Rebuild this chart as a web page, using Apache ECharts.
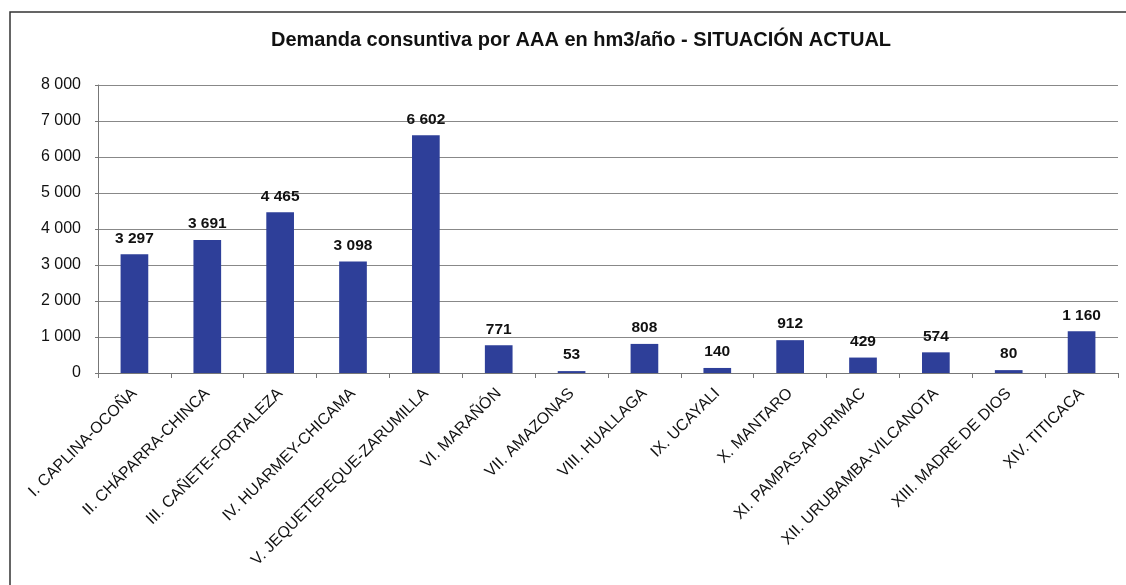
<!DOCTYPE html>
<html>
<head>
<meta charset="utf-8">
<script src="https://cdn.jsdelivr.net/npm/echarts@6/dist/echarts.min.js"></script>
<style>
html,body{margin:0;padding:0;background:#fff;}
#chart{width:1126px;height:585px;}
</style>
</head>
<body>
<div id="chart"></div>
<script>
const chartTitle = 'Demanda consuntiva por AAA en hm3/año - SITUACIÓN ACTUAL';
const categories = [
  'I. CAPLINA-OCOÑA',
  'II. CHÁPARRA-CHINCA',
  'III. CAÑETE-FORTALEZA',
  'IV. HUARMEY-CHICAMA',
  'V. JEQUETEPEQUE-ZARUMILLA',
  'VI. MARAÑÓN',
  'VII. AMAZONAS',
  'VIII. HUALLAGA',
  'IX. UCAYALI',
  'X. MANTARO',
  'XI. PAMPAS-APURIMAC',
  'XII. URUBAMBA-VILCANOTA',
  'XIII. MADRE DE DIOS',
  'XIV. TITICACA'
];
const demand = [3297, 3691, 4465, 3098, 6602, 771, 53, 808, 140, 912, 429, 574, 80, 1160];
const yMin = 0, yMax = 8000, yStep = 1000;

function fmt(v) {
  return String(Math.round(v)).replace(/\B(?=(\d{3})+(?!\d))/g, ' ');
}

const FONT = 'Liberation Sans, Arial, sans-serif';
const chart = echarts.init(document.getElementById('chart'));
chart.setOption({
  backgroundColor: '#ffffff',
  animation: false,
  title: {
    text: chartTitle,
    left: 266,
    top: 25,
    textStyle: { fontFamily: FONT, fontSize: 20, fontWeight: 'bold', color: '#111' }
  },
  graphic: [{
    type: 'rect',
    shape: { x: 10, y: 12, width: 1300, height: 800 },
    style: { fill: 'none', stroke: '#333', lineWidth: 1.5 },
    silent: true,
    z: 100
  }],
  grid: { left: 98, right: 8, top: 85, bottom: 212, containLabel: false },
  xAxis: {
    type: 'category',
    data: categories,
    axisLine: { lineStyle: { color: '#777', width: 1 } },
    axisTick: { show: true, alignWithLabel: false, length: 5, lineStyle: { color: '#777' } },
    axisLabel: {
      interval: 0,
      rotate: 45,
      margin: 18,
      fontFamily: FONT,
      fontSize: 16,
      color: '#111'
    }
  },
  yAxis: {
    type: 'value',
    min: yMin,
    max: yMax,
    interval: yStep,
    axisLine: { show: true, lineStyle: { color: '#777', width: 1 } },
    axisTick: { show: true, length: 3, lineStyle: { color: '#777' } },
    splitLine: { lineStyle: { color: '#888', width: 1 } },
    axisLabel: {
      formatter: fmt,
      margin: 17,
      fontFamily: FONT,
      fontSize: 16,
      color: '#111'
    }
  },
  series: [{
    type: 'bar',
    data: demand,
    barWidth: '38%',
    itemStyle: { color: '#2e3f99' },
    label: {
      show: true,
      position: 'top',
      distance: 8,
      formatter: p => fmt(p.value),
      fontFamily: FONT,
      fontSize: 15.5,
      fontWeight: 'bold',
      color: '#111'
    }
  }]
});
</script>
</body>
</html>
